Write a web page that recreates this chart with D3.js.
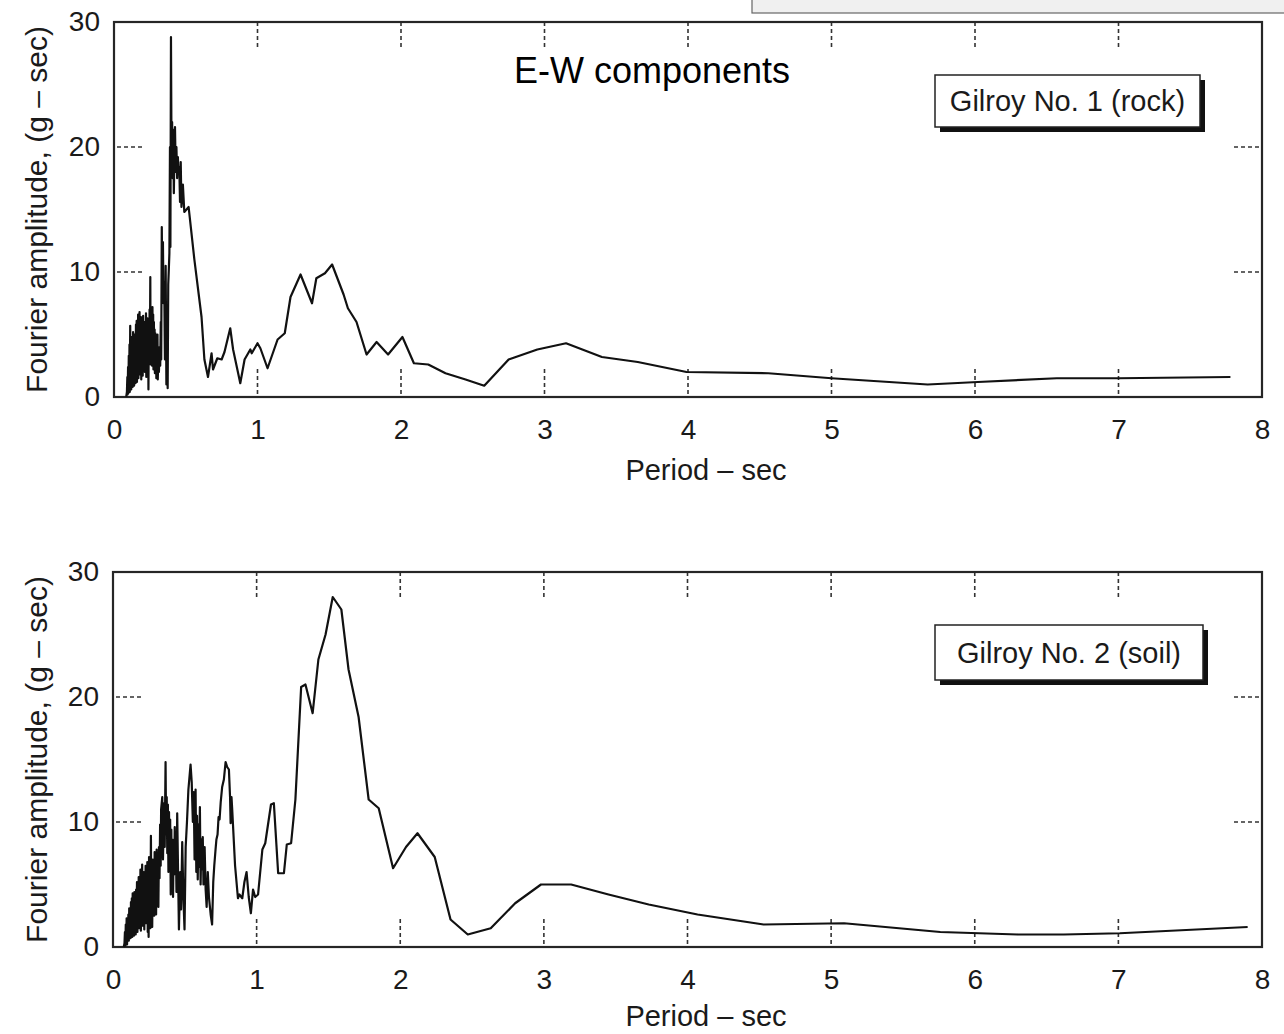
<!DOCTYPE html>
<html>
<head>
<meta charset="utf-8">
<script src="https://cdn.jsdelivr.net/npm/d3@7"></script>
<style>
  html, body { margin: 0; padding: 0; background: #ffffff; }
  svg { display: block; }
  text { font-family: "Liberation Sans", Arial, Helvetica, sans-serif; fill: #1a1a1a; }
</style>
</head>
<body>
<svg id="chart" width="1284" height="1034"></svg>
<script>
// Fourier amplitude spectra, E-W components, [period (s), amplitude (g-sec)]
const rockSeries = [
  [0.085,0],[0.09,0.4],[0.093,1.6],[0.095,0.2],[0.098,2.4],[0.1,0.3],[0.103,3.3],[0.105,0.5],
  [0.108,4.2],[0.11,0.4],[0.113,5.7],[0.115,0.9],[0.118,3.9],[0.12,0.6],[0.123,4.8],[0.125,1.2],
  [0.128,4.1],[0.13,0.8],[0.133,5.2],[0.135,1.5],[0.138,4.6],[0.14,0.9],[0.143,5.0],[0.145,1.7],
  [0.148,4.7],[0.15,1.1],[0.153,5.8],[0.155,2.0],[0.158,6.1],[0.16,1.2],[0.163,5.4],[0.165,2.4],
  [0.168,6.6],[0.17,1.5],[0.173,6.0],[0.175,2.3],[0.178,6.8],[0.18,1.8],[0.183,5.6],[0.185,2.9],
  [0.188,6.4],[0.19,1.4],[0.193,6.1],[0.195,2.6],[0.198,5.8],[0.2,1.7],[0.203,6.5],[0.205,2.1],
  [0.208,5.2],[0.21,3.0],[0.213,6.0],[0.215,2.0],[0.218,5.5],[0.22,2.7],[0.223,6.7],[0.225,1.6],
  [0.228,5.9],[0.23,3.2],[0.233,6.3],[0.235,2.4],[0.238,5.7],[0.24,0.6],[0.243,6.2],[0.245,2.8],
  [0.248,7.0],[0.25,3.4],[0.253,9.6],[0.255,2.6],[0.258,6.2],[0.26,3.1],[0.263,5.8],[0.265,2.5],
  [0.268,7.2],[0.27,3.9],[0.273,6.6],[0.275,2.2],[0.278,6.0],[0.28,3.3],[0.283,5.4],[0.285,1.9],
  [0.288,5.1],[0.29,2.6],[0.293,4.7],[0.295,1.5],[0.298,4.4],[0.3,2.0],[0.303,5.0],[0.305,1.4],
  [0.31,3.5],[0.313,2.0],[0.318,4.0],[0.322,2.5],[0.326,6.0],[0.329,3.0],[0.333,13.6],[0.337,8.0],
  [0.341,12.4],[0.345,7.5],[0.35,9.2],[0.355,3.0],[0.36,10.5],[0.365,1.0],[0.37,7.0],[0.374,0.7],
  [0.378,9.0],[0.382,10.2],[0.386,11.5],[0.39,20.0],[0.393,12.0],[0.397,28.8],[0.401,19.0],
  [0.405,22.0],[0.409,17.5],[0.413,21.4],[0.417,16.3],[0.421,19.5],[0.425,21.6],[0.43,18.0],
  [0.435,20.0],[0.44,17.5],[0.445,19.2],[0.45,18.0],[0.455,18.4],[0.46,15.6],[0.465,18.8],
  [0.47,15.2],[0.48,17.0],[0.49,14.8],[0.52,15.2],[0.56,11.0],[0.61,6.4],[0.63,3.0],[0.655,1.6],
  [0.68,3.5],[0.69,2.2],[0.72,3.1],[0.75,3.0],[0.77,3.6],[0.81,5.5],[0.83,3.8],[0.88,1.1],
  [0.91,3.0],[0.95,3.8],[0.96,3.5],[1.0,4.3],[1.02,3.9],[1.07,2.3],[1.14,4.6],[1.19,5.1],
  [1.23,8.0],[1.30,9.8],[1.38,7.5],[1.41,9.5],[1.47,9.9],[1.52,10.6],[1.60,8.2],[1.63,7.1],
  [1.69,6.0],[1.76,3.4],[1.83,4.4],[1.91,3.4],[2.01,4.8],[2.09,2.7],[2.19,2.6],[2.31,1.9],
  [2.45,1.4],[2.58,0.9],[2.75,3.0],[2.95,3.8],[3.15,4.3],[3.40,3.2],[3.65,2.8],[3.99,2.0],
  [4.56,1.9],[5.0,1.5],[5.67,1.0],[6.02,1.2],[6.57,1.5],[7.0,1.5],[7.78,1.6]
];

const soilSeries = [
  [0.075,0],[0.08,0.3],[0.083,1.2],[0.086,0.1],[0.089,1.8],[0.092,0.4],[0.095,2.3],[0.098,0.2],
  [0.101,2.0],[0.104,0.6],[0.107,2.6],[0.11,0.5],[0.113,3.1],[0.116,0.9],[0.119,2.8],[0.122,0.7],
  [0.125,3.6],[0.128,1.1],[0.131,3.9],[0.134,0.8],[0.137,4.3],[0.14,1.4],[0.143,3.7],[0.146,0.9],
  [0.149,4.4],[0.152,1.6],[0.155,4.0],[0.158,1.0],[0.161,4.6],[0.164,1.8],[0.167,5.2],[0.17,1.2],
  [0.173,4.7],[0.176,2.2],[0.179,5.6],[0.182,1.5],[0.185,5.0],[0.188,2.5],[0.191,6.2],[0.194,1.3],
  [0.197,5.4],[0.2,2.8],[0.203,6.6],[0.206,1.7],[0.209,5.8],[0.212,2.4],[0.215,6.0],[0.218,1.4],
  [0.221,5.1],[0.224,3.0],[0.227,6.5],[0.23,1.9],[0.233,5.6],[0.236,2.6],[0.239,6.8],[0.242,1.2],
  [0.245,6.0],[0.248,0.8],[0.251,7.2],[0.254,2.0],[0.257,6.3],[0.26,1.5],[0.264,8.9],[0.267,2.9],
  [0.27,6.0],[0.273,1.6],[0.277,7.0],[0.28,3.3],[0.284,6.4],[0.287,2.5],[0.29,7.6],[0.294,3.4],
  [0.297,6.0],[0.3,2.6],[0.304,7.8],[0.308,4.0],[0.312,6.8],[0.316,3.2],[0.32,8.0],[0.324,5.5],
  [0.328,9.8],[0.332,6.5],[0.335,11.0],[0.343,12.0],[0.348,7.0],[0.355,11.5],[0.36,8.0],
  [0.366,14.8],[0.37,9.0],[0.374,12.0],[0.378,7.5],[0.382,11.4],[0.386,6.0],[0.39,10.8],
  [0.394,6.8],[0.398,10.2],[0.402,4.2],[0.406,9.4],[0.41,5.4],[0.414,8.6],[0.418,4.0],[0.422,7.8],
  [0.426,5.8],[0.43,9.6],[0.434,6.2],[0.438,8.0],[0.442,4.4],[0.447,10.7],[0.459,1.4],[0.468,6.0],
  [0.474,3.0],[0.482,8.4],[0.49,4.0],[0.498,1.4],[0.506,8.0],[0.515,10.0],[0.525,12.6],[0.54,14.6],
  [0.548,13.2],[0.556,10.0],[0.562,12.4],[0.568,7.0],[0.575,12.6],[0.58,6.0],[0.585,10.5],
  [0.59,5.4],[0.595,9.8],[0.6,6.4],[0.605,11.2],[0.61,5.0],[0.615,8.6],[0.62,6.2],[0.625,8.8],
  [0.63,5.0],[0.638,8.0],[0.645,4.6],[0.652,3.2],[0.66,6.0],[0.668,4.0],[0.68,2.6],[0.69,1.8],
  [0.698,5.2],[0.705,6.5],[0.714,7.8],[0.72,8.6],[0.728,9.0],[0.735,10.4],[0.742,10.2],
  [0.75,11.6],[0.76,12.8],[0.772,13.4],[0.784,14.8],[0.795,14.4],[0.807,14.2],[0.815,12.0],
  [0.819,9.9],[0.825,12.0],[0.83,11.0],[0.85,6.5],[0.87,3.9],[0.88,4.2],[0.9,3.9],[0.915,5.2],
  [0.93,6.0],[0.945,4.0],[0.96,2.7],[0.975,4.6],[0.99,4.0],[1.01,4.2],[1.04,7.8],[1.06,8.3],
  [1.10,11.4],[1.12,11.5],[1.15,5.9],[1.19,5.9],[1.21,8.2],[1.24,8.3],[1.27,11.8],[1.31,20.8],
  [1.34,21.0],[1.39,18.7],[1.43,23.0],[1.48,25.0],[1.53,28.0],[1.59,27.0],[1.64,22.2],
  [1.71,18.4],[1.78,11.8],[1.85,11.1],[1.95,6.3],[2.04,8.0],[2.12,9.1],[2.24,7.2],[2.35,2.2],
  [2.47,1.0],[2.63,1.5],[2.80,3.5],[2.98,5.0],[3.19,5.0],[3.45,4.2],[3.73,3.4],[4.07,2.6],
  [4.53,1.8],[5.09,1.9],[5.76,1.2],[6.30,1.0],[6.62,1.0],[7.01,1.1],[7.9,1.6]
];

const periodTicks = [0, 1, 2, 3, 4, 5, 6, 7, 8];
const innerPeriodTicks = [1, 2, 3, 4, 5, 6, 7];
const ampTicks = [0, 10, 20, 30];
const innerAmpTicks = [10, 20];

const xLabel = "Period \u2013 sec";
const yLabel = "Fourier amplitude, (g \u2013 sec)";
const title = "E-W components";
const stationNames = ["Gilroy No. 1 (rock)", "Gilroy No. 2 (soil)"];

const svg = d3.select("#chart");

// small grey strip in the top right corner
svg.append("rect")
  .attr("x", 752).attr("y", -2).attr("width", 540).attr("height", 15)
  .attr("fill", "#f0f0f0").attr("stroke", "#666").attr("stroke-width", 1.2);

const panels = [
  { series: rockSeries, name: stationNames[0], left: 114, right: 1262, top: 22, bottom: 397,
    box: { x: 935, y: 75, w: 265, h: 52 }, xLabelY: 480 },
  { series: soilSeries, name: stationNames[1], left: 113, right: 1262, top: 572, bottom: 947,
    box: { x: 935, y: 625, w: 268, h: 55 }, xLabelY: 1026 }
];

panels.forEach(p => {
  const x = d3.scaleLinear().domain([0, 8]).range([p.left, p.right]);
  const y = d3.scaleLinear().domain([0, 30]).range([p.bottom, p.top]);
  const g = svg.append("g");

  // tick labels
  const xAxis = g.append("g")
    .attr("transform", `translate(0,${p.bottom})`)
    .call(d3.axisBottom(x).tickValues(periodTicks).tickSize(0).tickPadding(22).tickFormat(d3.format("d")));
  const yAxis = g.append("g")
    .attr("transform", `translate(${p.left},0)`)
    .call(d3.axisLeft(y).tickValues(ampTicks).tickSize(0).tickPadding(14).tickFormat(d3.format("d")));
  [xAxis, yAxis].forEach(a => {
    a.select(".domain").remove();
    a.selectAll("text").attr("font-size", 28).attr("font-family", "Liberation Sans, Arial, sans-serif").attr("fill", "#1a1a1a");
  });

  // dotted inward ticks
  const dash = "4,3";
  const tl = 28;
  g.append("g").selectAll("line").data(innerPeriodTicks).join("line")
    .attr("x1", d => x(d)).attr("x2", d => x(d))
    .attr("y1", p.top).attr("y2", p.top + tl);
  g.append("g").selectAll("line").data(innerPeriodTicks).join("line")
    .attr("x1", d => x(d)).attr("x2", d => x(d))
    .attr("y1", p.bottom - tl).attr("y2", p.bottom);
  g.append("g").selectAll("line").data(innerAmpTicks).join("line")
    .attr("x1", p.left + 3).attr("x2", p.left + tl)
    .attr("y1", d => y(d)).attr("y2", d => y(d));
  g.append("g").selectAll("line").data(innerAmpTicks).join("line")
    .attr("x1", p.right - tl).attr("x2", p.right)
    .attr("y1", d => y(d)).attr("y2", d => y(d));
  g.selectAll("line")
    .attr("stroke", "#333").attr("stroke-width", 1.6).attr("stroke-dasharray", dash);

  // frame
  g.append("rect")
    .attr("x", p.left).attr("y", p.top)
    .attr("width", p.right - p.left).attr("height", p.bottom - p.top)
    .attr("fill", "none").attr("stroke", "#262626").attr("stroke-width", 2.2);

  // spectrum
  const line = d3.line().x(d => x(d[0])).y(d => y(d[1]));
  g.append("path")
    .datum(p.series)
    .attr("d", line)
    .attr("fill", "none")
    .attr("stroke", "#111")
    .attr("stroke-width", 2.2)
    .attr("stroke-linejoin", "round");

  // station label with drop shadow
  const b = p.box;
  g.append("rect").attr("x", b.x + 5).attr("y", b.y + 5).attr("width", b.w).attr("height", b.h)
    .attr("fill", "#111");
  g.append("rect").attr("x", b.x).attr("y", b.y).attr("width", b.w).attr("height", b.h)
    .attr("fill", "#fff").attr("stroke", "#222").attr("stroke-width", 1.5);
  g.append("text")
    .attr("x", b.x + b.w / 2).attr("y", b.y + b.h / 2 + 10)
    .attr("text-anchor", "middle").attr("font-size", 29)
    .text(p.name);

  // axis titles
  g.append("text")
    .attr("x", 706).attr("y", p.xLabelY)
    .attr("text-anchor", "middle").attr("font-size", 29)
    .text(xLabel);
  g.append("text")
    .attr("transform", `translate(47,${(p.top + p.bottom) / 2}) rotate(-90)`)
    .attr("text-anchor", "middle").attr("font-size", 30)
    .text(yLabel);
});

svg.append("text")
  .attr("x", 514).attr("y", 83)
  .attr("font-size", 36).style("fill", "#000")
  .text(title);
</script>
</body>
</html>
